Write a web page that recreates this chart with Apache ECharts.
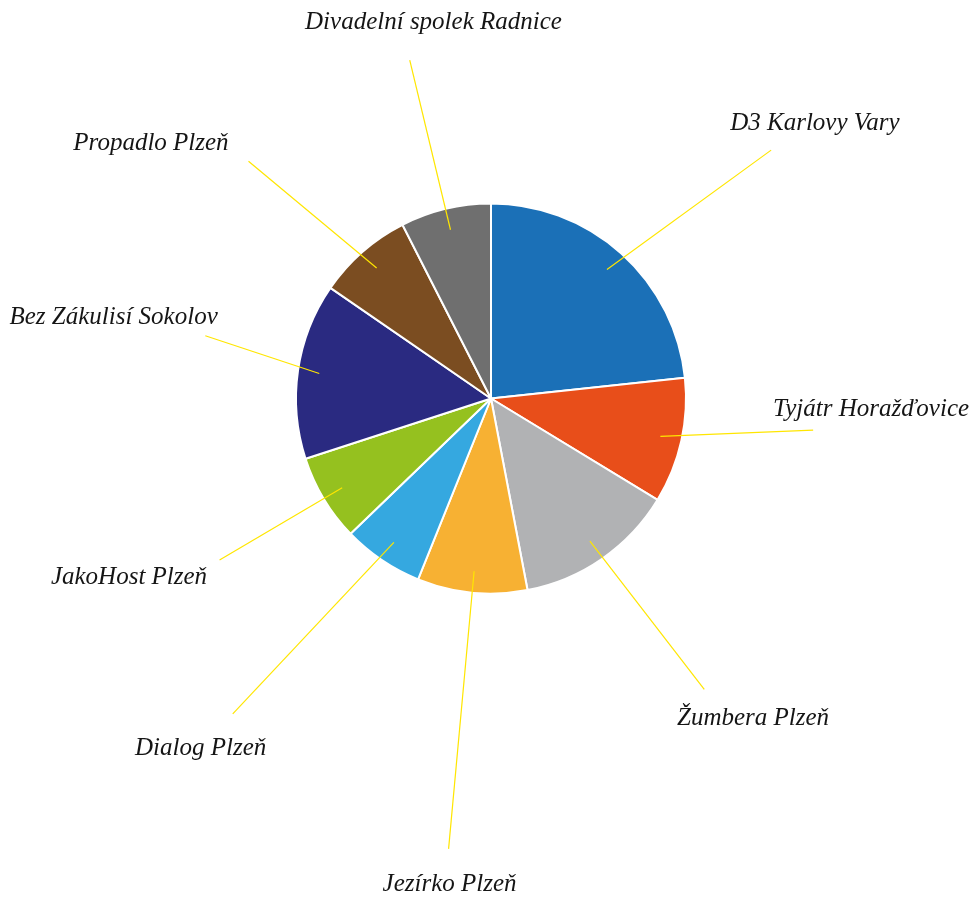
<!DOCTYPE html>
<html>
<head>
<meta charset="utf-8">
<style>
  html, body { margin: 0; padding: 0; background: #fff; }
  #chart { width: 974px; height: 902px; }
</style>
<script src="https://cdn.jsdelivr.net/npm/echarts@6/dist/echarts.min.js"></script>
</head>
<body>
<div id="chart"></div>
<script>
// data
var names = ['D3 Karlovy Vary', 'Tyjátr Horažďovice', 'Žumbera Plzeň', 'Jezírko Plzeň', 'Dialog Plzeň',
    'JakoHost Plzeň', 'Bez Zákulisí Sokolov', 'Propadlo Plzeň', 'Divadelní spolek Radnice'];
var values = [23.3, 10.4, 13.3, 9.1, 6.7, 7.2, 14.6, 7.9, 7.5];
var colors = ['#1b70b7', '#e84e1a', '#b1b2b4', '#f7b133', '#35a8e0', '#95c11f', '#2a2a81', '#7b4d21', '#6f6f6f'];

// label placement (layout only): angle shift from the slice middle (deg), distance in radii
var labelShift = [7.7, -11, -4.6, -0.7, 5.7, 4.7, 3.9, -11.9, 4.8];
var labelReach = [2.18, 1.95, 2.12, 2.50, 2.33, 2.07, 1.98, 2.18, 1.95];
// where each guide line stops
var lineShift = [6.5, -7, -1.5, -0.2, 5.3, 0.2, 4.1, -4.4, 0];
var lineReach = [1.92, 1.66, 1.85, 2.32, 2.09, 1.62, 1.50, 1.74, 1.785];

var cx = 491, cy = 398.5, R = 195;

//中间角度
var total = values.reduce(function (a, b) { return a + b; }, 0);
var midAngles = [];
var acc = 0;
values.forEach(function (v) {
    midAngles.push((acc + v / 2) / total * 360);
    acc += v;
});

function polar(angle, dist) {
    var a = angle * Math.PI / 180;
    return [cx + dist * Math.sin(a), cy - dist * Math.cos(a)];
}

var pieData = names.map(function (n, i) {
    return { name: n, value: values[i], itemStyle: { color: colors[i] } };
});

var chart = echarts.init(document.getElementById('chart'));
chart.setOption({
    animation: false,
    series: [{
        // visible slices
        type: 'pie',
        z: 2,
        center: [cx, cy],
        radius: R,
        startAngle: 90,
        clockwise: true,
        silent: true,
        itemStyle: {
            borderColor: '#fff',
            borderWidth: 2
        },
        label: { show: false },
        labelLine: { show: false },
        data: pieData
    }, {
        // same slices, transparent, only carries labels and guide lines on top
        type: 'pie',
        z: 3,
        center: [cx, cy],
        radius: R,
        startAngle: 90,
        clockwise: true,
        silent: true,
        avoidLabelOverlap: false,
        itemStyle: {
            color: 'rgba(0,0,0,0)',
            borderWidth: 0
        },
        label: {
            show: true,
            position: 'outside',
            fontFamily: 'Liberation Serif',
            fontStyle: 'italic',
            fontSize: 25,
            color: '#151515'
        },
        labelLine: {
            show: true,
            showAbove: true,
            lineStyle: {
                color: '#ffe600',
                width: 1.2
            }
        },
        labelLayout: function (params) {
            var i = params.dataIndex;
            var s = polar(midAngles[i], R * 0.89);
            var e = polar(midAngles[i] + lineShift[i], R * lineReach[i]);
            var t = polar(midAngles[i] + labelShift[i], R * labelReach[i]);
            return {
                x: t[0],
                y: t[1],
                align: 'center',
                verticalAlign: 'middle',
                labelLinePoints: [s, e, e]
            };
        },
        data: names.map(function (n, i) {
            return { name: n, value: values[i] };
        })
    }]
});
</script>
</body>
</html>
